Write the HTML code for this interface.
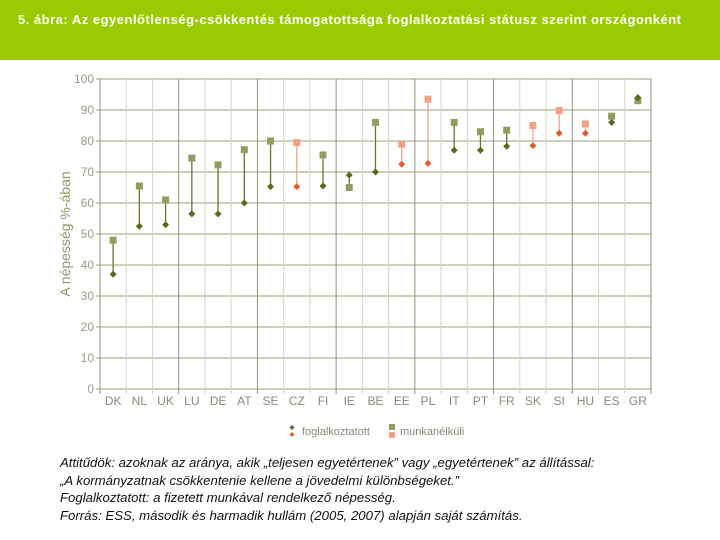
<!DOCTYPE html>
<html><head><meta charset="utf-8"><style>
body{margin:0;width:720px;height:540px;background:#fff;font-family:"Liberation Sans",sans-serif;overflow:hidden;position:relative}
#hdr{position:absolute;left:0;top:0;width:720px;height:60px;background:#99cc00}
#title{position:absolute;left:18px;top:12px;color:#fff;font-weight:bold;font-size:13px;letter-spacing:0.5px;white-space:nowrap}
#notes{position:absolute;left:60px;top:454px;font-size:13.2px;font-style:italic;line-height:17.5px;color:#111;white-space:nowrap}
svg{position:absolute;left:0;top:0}
</style></head><body>
<div id="hdr"></div>
<div id="title">5. ábra: Az egyenlőtlenség-csökkentés támogatottsága foglalkoztatási státusz szerint országonként</div>
<svg id="chart" width="720" height="540"></svg>
<div id="notes">Attitűdök: azoknak az aránya, akik „teljesen egyetértenek” vagy „egyetértenek” az állítással:<br>„A kormányzatnak csökkentenie kellene a jövedelmi különbségeket.”<br>Foglalkoztatott: a fizetett munkával rendelkező népesség.<br>Forrás: ESS, második és harmadik hullám (2005, 2007) alapján saját számítás.</div>
<script>
const countries=["DK","NL","UK","LU","DE","AT","SE","CZ","FI","IE","BE","EE","PL","IT","PT","FR","SK","SI","HU","ES","GR"];
const employed=[37,52.5,53,56.5,56.5,60,65.3,65.3,65.5,69,70,72.5,72.8,77,77,78.3,78.5,82.5,82.5,86,94];
const unemployed=[48,65.5,61,74.5,72.3,77.2,80,79.5,75.5,65,86,79,93.5,86,83,83.5,85,89.8,85.5,88,93];
const highlight=[0,0,0,0,0,0,0,1,0,0,0,1,1,0,0,0,1,1,1,0,0];
const yTicks=[0,10,20,30,40,50,60,70,80,90,100];
const NS="http://www.w3.org/2000/svg";
const svg=document.getElementById('chart');
const X0=100,X1=651,Y0=389,Y1=79;
const bw=(X1-X0)/countries.length;
const xs=i=>X0+bw*(i+0.5);
const ys=v=>Y0-(v/100)*(Y0-Y1);
function mk(t,a){const e=document.createElementNS(NS,t);for(const k in a)e.setAttribute(k,a[k]);svg.appendChild(e);return e;}
yTicks.forEach(v=>{
 const l=mk('line',{x1:X0-4,x2:X1,y1:ys(v),y2:ys(v),stroke:'#9aa27a','stroke-width':1});
 
 
 const t=mk('text',{x:94,y:ys(v)+4,'text-anchor':'end','font-size':12,fill:'#9a9a8a'});
 t.textContent=v;
 
 
});
for(let i=0;i<=countries.length;i++){
 const x=X0+bw*i;
 const dark=(i%3===0);
 const l=mk('line',{x1:x,x2:x,y1:Y1,y2:Y0+5,stroke:dark?'#8e9670':'#d3d8bd','stroke-width':1});
 
 
}
mk('text',{x:70,y:234,'text-anchor':'middle','font-size':14,fill:'#8e9a66',transform:'rotate(-90 70 234)'}).textContent='A népesség %-ában';


countries.forEach((c,i)=>{
 const x=xs(i),h=highlight[i];
 const ln=mk('line',{x1:x,x2:x,y1:ys(employed[i]),y2:ys(unemployed[i]),stroke:h?'#f0a090':'#66772e','stroke-width':1.3});
 
 
 const sq=mk('rect',{x:x-3.5,y:ys(unemployed[i])-3.5,width:7,height:7,fill:h?'#f0a083':'#8f9f62'});
 
 
 const y=ys(employed[i]);
 const d=mk('polygon',{points:`${x},${y-3.5} ${x+3.5},${y} ${x},${y+3.5} ${x-3.5},${y}`,fill:h?'#d9602e':'#556b1e'});
 
 
 const t=mk('text',{x:x,y:405,'text-anchor':'middle','font-size':12,fill:'#8a8a7a'});
 t.textContent=c;
 
 
});
const lg=[['polygon',{points:'292,425 294.5,427.5 292,430 289.5,427.5',fill:'#556b1e'}],['polygon',{points:'292,432 294.5,434.5 292,437 289.5,434.5',fill:'#d9602e'}],
['rect',{x:389,y:424,width:6,height:6,fill:'#8f9f62'}],['rect',{x:389,y:432,width:6,height:6,fill:'#f0a083'}]];
lg.forEach(([t,a])=>{const e=mk(t,a);});
let t1=mk('text',{x:302,y:435,'font-size':11,fill:'#8a8a7a'});t1.textContent='foglalkoztatott';


let t2=mk('text',{x:400,y:435,'font-size':11,fill:'#8a8a7a'});t2.textContent='munkanélküli';


</script>
</body></html>
